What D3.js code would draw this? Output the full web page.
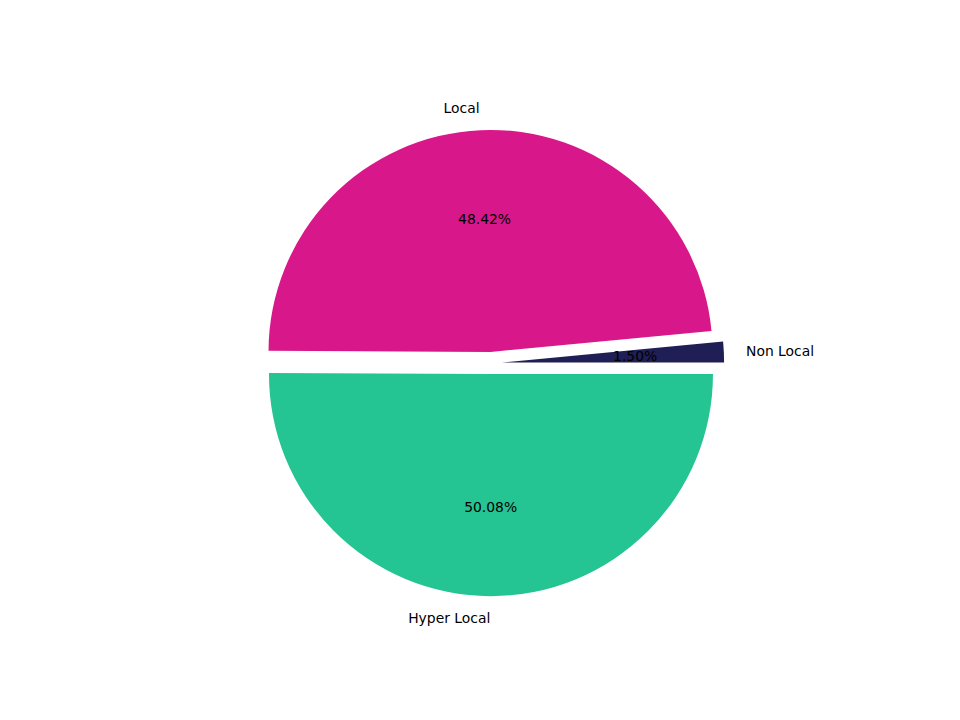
<!DOCTYPE html>
<html><head><meta charset="utf-8">
<script src="https://cdn.jsdelivr.net/npm/d3@7"></script>
<style>body{margin:0;background:#fff}</style></head>
<body><svg id="c" width="960" height="720"></svg>
<script>
const categories = ["Non Local", "Local", "Hyper Local"];
const values = [1.50, 48.42, 50.08];
const colors = ["#1f1f55", "#d8188a", "#25c493"];
const pctLabels = ["1.50%", "48.42%", "50.08%"];

const svg = d3.select("#c");
const cx = 491, cy = 363, r = 222, ex = 0.05 * r;
const pie = d3.pie().sort(null).startAngle(Math.PI/2).endAngle(Math.PI/2 - 2*Math.PI);
const arcs = pie(values);
const arc = d3.arc().innerRadius(0).outerRadius(r);
const font = "DejaVu Sans, sans-serif";
arcs.forEach((a, i) => {
  const m = (a.startAngle + a.endAngle) / 2;
  const ux = Math.sin(m), uy = -Math.cos(m);
  const ox = cx + ux * ex, oy = cy + uy * ex;
  svg.append("path").attr("d", arc(a)).attr("transform", `translate(${ox},${oy})`).attr("fill", colors[i]);
  const lx = ox + ux * r * 1.1, ly = oy + uy * r * 1.1;
  svg.append("text").attr("x", lx).attr("y", ly).attr("dy", "0.35em")
    .attr("text-anchor", ux < 0 ? "end" : "start")
    .attr("font-family", font).attr("font-size", 13.9).text(categories[i]);
  svg.append("text").attr("x", ox + ux * r * 0.6).attr("y", oy + uy * r * 0.6).attr("dy", "0.35em")
    .attr("text-anchor", "middle").attr("font-family", font).attr("font-size", 13.9).text(pctLabels[i]);
});
</script></body></html>
